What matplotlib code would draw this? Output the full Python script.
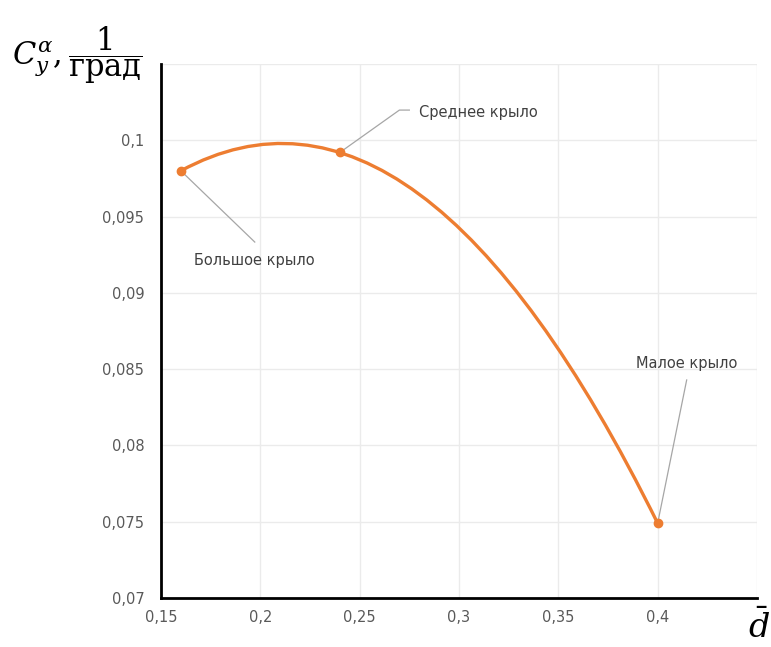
# -*- coding: utf-8 -*-
import matplotlib
matplotlib.use("Agg")
import matplotlib.pyplot as plt
from matplotlib.path import Path
from matplotlib.patches import PathPatch
import numpy as np

# data
d_rel = [0.16, 0.24, 0.40]
cy_alpha = [0.0980, 0.0992, 0.0749]
names = ['Большое крыло', 'Среднее крыло', 'Малое крыло']
label_pos = [(0.1972, 0.09215), (0.3096, 0.10179), (0.4146, 0.0854)]
leader_pts = [[(0.1972, 0.09333)],
              [(0.270, 0.10198), (0.275, 0.10198)],
              [(0.4146, 0.08429)]]

x_ticks = [0.15, 0.2, 0.25, 0.3, 0.35, 0.4]
x_tick_labels = ['0,15', '0,2', '0,25', '0,3', '0,35', '0,4']
y_ticks = [0.07, 0.075, 0.08, 0.085, 0.09, 0.095, 0.1]
y_tick_labels = ['0,07', '0,075', '0,08', '0,085', '0,09', '0,095', '0,1']

orange = '#ED7D31'
grey_txt = '#595959'

plt.rcParams['font.family'] = ['DejaVu Sans']
plt.rcParams['mathtext.fontset'] = 'dejavuserif'

fig = plt.figure(figsize=(7.71, 6.47), dpi=100)
ax = fig.add_axes([161 / 771, 1 - 598 / 647, (757 - 161) / 771, (598 - 64) / 647])

ax.set_xlim(0.15, 0.45)
ax.set_ylim(0.07, 0.105)

# smooth curve: the parabola through the three points as one quadratic bezier
coef = np.polyfit(d_rel, cy_alpha, 2)
slope = np.polyder(coef)
x0, x2 = d_rel[0], d_rel[-1]
xc = (x0 + x2) / 2
yc = cy_alpha[0] + np.polyval(slope, x0) * (xc - x0)
curve = Path([(x0, cy_alpha[0]), (xc, yc), (x2, cy_alpha[-1])],
             [Path.MOVETO, Path.CURVE3, Path.CURVE3])
ax.add_patch(PathPatch(curve, facecolor='none', edgecolor=orange,
                       lw=2.4, capstyle='round', zorder=3))
ax.plot(d_rel, cy_alpha, 'o', color=orange, ms=6, zorder=4)

for x, y, name, (lx, ly), lead in zip(d_rel, cy_alpha, names, label_pos, leader_pts):
    lxs = [x] + [p[0] for p in lead]
    lys = [y] + [p[1] for p in lead]
    ax.plot(lxs, lys, color='#A6A6A6', lw=0.9, zorder=2)
    ax.text(lx, ly, name, fontsize=10.5, color='#404040', ha='center', va='center')

ax.set_xticks(x_ticks + [0.45])
ax.set_xticklabels(x_tick_labels + [''])
ax.set_yticks(y_ticks + [0.105])
ax.set_yticklabels(y_tick_labels + [''])
ax.tick_params(length=0, labelsize=10.5, labelcolor=grey_txt)
ax.tick_params(axis='y', pad=12)
ax.tick_params(axis='x', pad=9)
ax.grid(True, color='#EBEBEB', lw=1)
ax.set_axisbelow(True)

for s in ['top', 'right']:
    ax.spines[s].set_visible(False)
for s in ['left', 'bottom']:
    ax.spines[s].set_color('black')
    ax.spines[s].set_linewidth(2)

fig.text(0.015, 0.915, r'$C_y^{\alpha},\dfrac{1}{\mathrm{град}}$', fontsize=22,
         ha='left', va='center')
fig.text(0.999, 0.03, r'$\bar{d}$', fontsize=24, ha='right', va='center')

fig.savefig('out.png', dpi=100)
